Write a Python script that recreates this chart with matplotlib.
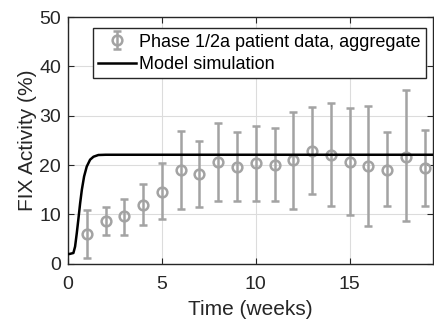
import matplotlib
matplotlib.use("Agg")
import matplotlib.pyplot as plt

plt.rcParams['font.family'] = ['Liberation Sans', 'DejaVu Sans']

# patient data (weeks, mean FIX activity %, lower / upper error bar ends)
weeks = [1, 2, 3, 4, 5, 6, 7, 8, 9, 10, 11, 12, 13, 14, 15, 16, 17, 18, 19]
fix_mean = [6.0, 8.7, 9.6, 11.9, 14.6, 19.1, 18.2, 20.6, 19.7, 20.4, 20.1, 21.1,
            22.9, 22.1, 20.6, 19.8, 19.0, 21.7, 19.5]
fix_low = [1.1, 5.8, 5.8, 7.8, 9.0, 11.1, 11.6, 12.8, 12.8, 12.8, 12.8, 11.2,
           14.1, 11.7, 9.8, 7.7, 11.7, 8.6, 11.7]
fix_high = [10.9, 11.5, 13.2, 16.1, 20.4, 27.0, 24.8, 28.5, 26.7, 27.9, 27.5, 30.8,
            31.7, 32.5, 31.5, 32.0, 26.7, 35.2, 27.1]

# model simulation curve
model_t = [0.0, 0.07, 0.28, 0.37, 0.46, 0.55, 0.64, 0.73, 0.85, 0.99, 1.17, 1.35,
           1.61, 2.0, 5.0, 10.0, 15.0, 19.5]
model_fix = [2.0, 2.0, 2.2, 3.5, 6.2, 9.2, 12.3, 15.0, 17.7, 19.7, 21.1, 21.7,
             22.05, 22.1, 22.1, 22.1, 22.1, 22.1]

yerr = [[m - lo for m, lo in zip(fix_mean, fix_low)],
        [hi - m for m, hi in zip(fix_mean, fix_high)]]

fig = plt.figure(figsize=(4.34, 3.21), dpi=100)
ax = fig.add_axes([0.157, 0.178, 0.841, 0.769])

gray = '#a3a3a3'
eb = ax.errorbar(weeks, fix_mean, yerr=yerr, fmt='o', color=gray, mfc='none',
                 mec=gray, ms=7, mew=1.8, elinewidth=1.8, capsize=3, capthick=1.8,
                 zorder=3)
ln, = ax.plot(model_t, model_fix, color='black', lw=1.8, zorder=4)

ax.set_xlim(0, 19.45)
ax.set_ylim(0, 50)
ax.set_xticks([0, 5, 10, 15])
ax.set_yticks([0, 10, 20, 30, 40, 50])
ax.grid(True, color='#dcdcdc', lw=0.8)
ax.set_axisbelow(True)
ax.tick_params(direction='in', top=True, right=True, labelsize=14, length=4,
               colors='#262626', labelcolor='#262626')
ax.tick_params(axis='x', pad=9)
ax.tick_params(axis='y', pad=5)
for s in ax.spines.values():
    s.set_linewidth(1.0)
    s.set_color('#262626')

ax.set_xlabel('Time (weeks)', fontsize=15, color='#262626', labelpad=5)
ax.set_ylabel('FIX Activity (%)', fontsize=15, color='#262626', labelpad=2)

leg = ax.legend([eb, ln], ['Phase 1/2a patient data, aggregate', 'Model simulation'],
                loc='upper left', bbox_to_anchor=(0.068, 0.955), fontsize=13,
                frameon=True, fancybox=False, framealpha=1, edgecolor='#262626',
                borderpad=0.3, handlelength=2.1, handletextpad=0.15,
                labelspacing=0.3, borderaxespad=0)
leg.get_frame().set_linewidth(1.0)

fig.savefig('out.png', dpi=100)
